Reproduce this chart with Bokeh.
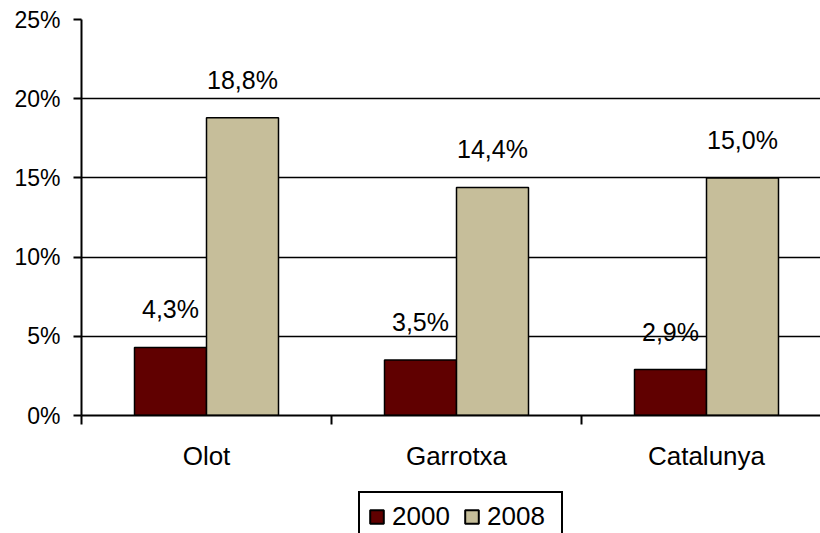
import numpy as np
from bokeh.plotting import figure
from bokeh.layouts import column
from bokeh.models import Range1d, FixedTicker, Legend, LegendItem, ColumnDataSource
from bokeh.core.properties import value
from bokeh.embed import file_html
from bokeh.resources import INLINE

categories = ["Olot", "Garrotxa", "Catalunya"]
series_names = ["2000", "2008"]
values_2000 = [4.3, 3.5, 2.9]
values_2008 = [18.8, 14.4, 15.0]
labels_2000 = ["4,3%", "3,5%", "2,9%"]
labels_2008 = ["18,8%", "14,4%", "15,0%"]
y_ticks = [0, 5, 10, 15, 20, 25]
y_tick_labels = ["0%", "5%", "10%", "15%", "20%", "25%"]

FONT = "Liberation Sans"
C2000 = "#600000"
C2008 = "#C6BE9A"
BAR_W = 0.288

centers = [i + 0.5 for i in range(len(categories))]
x2000 = [c - BAR_W / 2 for c in centers]
x2008 = [c + BAR_W / 2 for c in centers]

src2000 = ColumnDataSource(dict(x=x2000, top=values_2000, label=labels_2000))
src2008 = ColumnDataSource(dict(x=x2008, top=values_2008, label=labels_2008))

p = figure(width=820, height=480, x_range=Range1d(0, 2.956), y_range=Range1d(0, 25),
           output_backend="svg", toolbar_location=None,
           min_border_left=81, min_border_top=19, min_border_right=0, min_border_bottom=65)
p.outline_line_color = None
p.background_fill_color = "white"
p.border_fill_color = "white"

p.xgrid.grid_line_color = None
p.ygrid.grid_line_color = "black"
p.ygrid.grid_line_width = 1.5
p.ygrid.ticker = FixedTicker(ticks=y_ticks)

# y axis
p.yaxis.ticker = FixedTicker(ticks=y_ticks)
p.yaxis.major_label_overrides = {t: l for t, l in zip(y_ticks, y_tick_labels)}
p.yaxis.axis_line_color = "black"
p.yaxis.axis_line_width = 2
p.yaxis.major_tick_line_color = "black"
p.yaxis.major_tick_line_width = 2
p.yaxis.major_tick_out = 8
p.yaxis.major_tick_in = 0
p.yaxis.minor_tick_line_color = None
p.yaxis.major_label_standoff = 13
p.yaxis.major_label_text_font = FONT
p.yaxis.major_label_text_font_size = "23px"
p.yaxis.major_label_text_color = "black"

# x axis
p.xaxis.ticker = FixedTicker(ticks=centers, minor_ticks=[0, 1, 2, 3])
p.xaxis.major_label_overrides = {c: n for c, n in zip(centers, categories)}
p.xaxis.axis_line_color = "black"
p.xaxis.axis_line_width = 2
p.xaxis.major_tick_line_color = None
p.xaxis.major_tick_out = 0
p.xaxis.major_tick_in = 0
p.xaxis.minor_tick_line_color = "black"
p.xaxis.minor_tick_line_width = 2
p.xaxis.minor_tick_out = 9
p.xaxis.minor_tick_in = 0
p.xaxis.major_label_standoff = 16
p.xaxis.major_label_text_font = FONT
p.xaxis.major_label_text_font_size = "26px"
p.xaxis.major_label_text_color = "black"

r1 = p.vbar(x="x", top="top", bottom=0, width=BAR_W, source=src2000,
            fill_color=C2000, line_color="black", line_width=1.5)
r2 = p.vbar(x="x", top="top", bottom=0, width=BAR_W, source=src2008,
            fill_color=C2008, line_color="black", line_width=1.5)

for src in (src2000, src2008):
    p.text(x="x", y="top", text="label", source=src, text_align="center",
           text_baseline="middle", y_offset=-38, text_font=value(FONT),
           text_font_size="25px", text_color="black")

# legend strip below the chart (legend renderers hold one undrawn NaN row)
lf = figure(width=820, height=53, x_range=Range1d(0, 1), y_range=Range1d(0, 1),
            output_backend="svg", toolbar_location=None,
            min_border_left=0, min_border_top=0, min_border_right=0, min_border_bottom=0)
lf.axis.visible = False
lf.grid.grid_line_color = None
lf.outline_line_color = None
lf.border_fill_color = "white"
nan_src1 = ColumnDataSource(dict(x=np.array([np.nan]), top=np.array([np.nan])))
nan_src2 = ColumnDataSource(dict(x=np.array([np.nan]), top=np.array([np.nan])))
l1 = lf.vbar(x="x", top="top", bottom=0, width=0.1, source=nan_src1,
             fill_color=C2000, line_color="black", line_width=2)
l2 = lf.vbar(x="x", top="top", bottom=0, width=0.1, source=nan_src2,
             fill_color=C2008, line_color="black", line_width=2)
legend = Legend(items=[LegendItem(label=series_names[0], renderers=[l1], index=0),
                       LegendItem(label=series_names[1], renderers=[l2], index=0)],
                orientation="horizontal", location=(277, -9),
                border_line_color="black", border_line_width=2, border_line_alpha=1,
                background_fill_color="white", background_fill_alpha=1,
                label_text_font=FONT, label_text_font_size="26px", label_text_color="black",
                glyph_width=17, glyph_height=17, spacing=5, padding=8,
                label_standoff=7, label_width=66, margin=0)
lf.add_layout(legend, "center")

layout = column(p, lf, spacing=0)
open("out.html", "w").write(file_html(layout, INLINE))
